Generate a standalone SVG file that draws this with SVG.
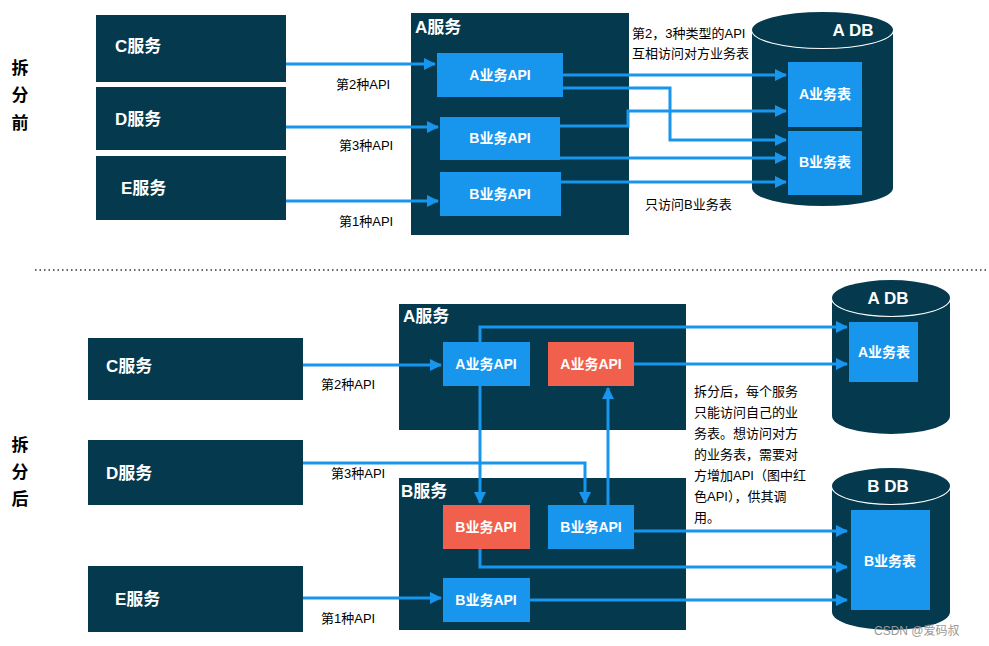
<svg xmlns="http://www.w3.org/2000/svg" width="989" height="646" viewBox="0 0 989 646">
<defs>
<style>
text{font-family:"Liberation Sans","Noto Sans CJK SC",sans-serif}
.d{fill:#053a4e}
.b{fill:#1896ee}
.r{fill:#f1604c}
.wt{fill:#fff;font-weight:bold;font-size:14px;text-anchor:middle}
.st{fill:#fff;font-weight:bold;font-size:17px}
.lb{fill:#000;font-size:13px}
.side{fill:#000;font-size:17px;font-weight:bold;text-anchor:middle}
.c{fill:none;stroke:#1896ee;stroke-width:3}
</style>
<marker id="a" markerWidth="12" markerHeight="12" refX="11" refY="6" orient="auto" markerUnits="userSpaceOnUse" viewBox="0 0 12 12"><path d="M0,0L12,6L0,12z" fill="#1896ee"/></marker>
</defs>
<rect width="989" height="646" fill="#fff"/>
<g id="side-labels">
<text class="side" x="20" y="74">拆</text><text class="side" x="20" y="101">分</text><text class="side" x="20" y="129">前</text>
<text class="side" x="20" y="451">拆</text><text class="side" x="20" y="478">分</text><text class="side" x="20" y="505">后</text>
</g>
<line x1="35" y1="270" x2="989" y2="270" stroke="#333" stroke-width="1.3" stroke-dasharray="1.5 3"/>
<g id="C1"><rect class="d" x="96" y="15" width="190" height="67"/><text class="st" x="115" y="52">C服务</text></g>
<g id="D1"><rect class="d" x="96" y="87" width="190" height="63"/><text class="st" x="115" y="125">D服务</text></g>
<g id="E1"><rect class="d" x="96" y="156" width="190" height="64"/><text class="st" x="121" y="194">E服务</text></g>
<g id="Asvc1"><rect class="d" x="411" y="13" width="218" height="222"/><text class="st" x="415" y="33">A服务</text></g>
<g id="A1api"><rect class="b" x="437" y="53" width="126" height="44"/><text class="wt" x="500" y="80">A业务API</text></g>
<g id="B1api"><rect class="b" x="440" y="117" width="120" height="43"/><text class="wt" x="500" y="143">B业务API</text></g>
<g id="B2api"><rect class="b" x="440" y="172" width="121" height="44"/><text class="wt" x="500" y="199">B业务API</text></g>
<g id="ADB1">
<path class="d" d="M752,30 A70.5,18 0 0 1 893,30 V188 A70.5,18 0 0 1 752,188 Z"/>
<ellipse cx="822.5" cy="30" rx="70.5" ry="18" fill="none" stroke="#fff" stroke-width="2"/>
<path class="d" d="M752,30 A70.5,18 0 0 1 893,30 A70.5,18 0 0 1 752,30Z"/>
<text class="wt" x="853" y="36" style="font-size:17px">A DB</text>
<rect class="b" x="788" y="62" width="74" height="65"/><text class="wt" x="825" y="99">A业务表</text>
<rect class="b" x="788" y="131" width="74" height="64"/><text class="wt" x="825" y="167">B业务表</text>
</g>
<g id="texts1">
<text class="lb" x="632" y="38">第2，3种类型的API</text>
<text class="lb" x="632" y="58">互相访问对方业务表</text>
<text class="lb" x="645" y="209">只访问B业务表</text>
<text class="lb" x="336" y="89">第2种API</text>
<text class="lb" x="339" y="150">第3种API</text>
<text class="lb" x="339" y="226">第1种API</text>
</g>
<g id="connectors1">
<path class="c" d="M286,64H435" marker-end="url(#a)"/>
<path class="c" d="M286,127H438" marker-end="url(#a)"/>
<path class="c" d="M286,201H438" marker-end="url(#a)"/>
<path class="c" d="M563,75H786" marker-end="url(#a)"/>
<path class="c" d="M563,88H670V140H786" marker-end="url(#a)"/>
<path class="c" d="M560,126H628V111H786" marker-end="url(#a)"/>
<path class="c" d="M560,158H786" marker-end="url(#a)"/>
<path class="c" d="M561,182H786" marker-end="url(#a)"/>
</g>
<g id="C2"><rect class="d" x="88" y="338" width="215" height="62"/><text class="st" x="106" y="372">C服务</text></g>
<g id="D2"><rect class="d" x="88" y="440" width="215" height="65"/><text class="st" x="106" y="479">D服务</text></g>
<g id="E2"><rect class="d" x="88" y="566" width="215" height="66"/><text class="st" x="115" y="605">E服务</text></g>
<g id="Asvc2"><rect class="d" x="399" y="304" width="287" height="126"/><text class="st" x="403" y="322">A服务</text></g>
<g id="Bsvc2"><rect class="d" x="399" y="478" width="287" height="152"/><text class="st" x="401" y="497">B服务</text></g>
<g id="A2api"><rect class="b" x="443" y="342" width="87" height="44"/><text class="wt" x="486" y="369">A业务API</text></g>
<g id="A2red"><rect class="r" x="548" y="342" width="86" height="44"/><text class="wt" x="591" y="369">A业务API</text></g>
<g id="B2red"><rect class="r" x="443" y="505" width="87" height="44"/><text class="wt" x="486" y="532">B业务API</text></g>
<g id="B2blue"><rect class="b" x="548" y="505" width="86" height="44"/><text class="wt" x="591" y="532">B业务API</text></g>
<g id="B3api"><rect class="b" x="443" y="578" width="87" height="44"/><text class="wt" x="486" y="605">B业务API</text></g>
<g id="ADB2">
<path class="d" d="M832,298 A59,18 0 0 1 950,298 V416 A59,18 0 0 1 832,416 Z"/>
<ellipse cx="891" cy="298" rx="59" ry="18" fill="none" stroke="#fff" stroke-width="2"/>
<path class="d" d="M832,298 A59,18 0 0 1 950,298 A59,18 0 0 1 832,298Z"/>
<text class="wt" x="888" y="304" style="font-size:17px">A DB</text>
<rect class="b" x="849" y="322" width="69" height="60"/><text class="wt" x="884" y="357">A业务表</text>
</g>
<g id="BDB2">
<path class="d" d="M832,486 A59,18 0 0 1 950,486 V612 A59,18 0 0 1 832,612 Z"/>
<ellipse cx="891" cy="486" rx="59" ry="18" fill="none" stroke="#fff" stroke-width="2"/>
<path class="d" d="M832,486 A59,18 0 0 1 950,486 A59,18 0 0 1 832,486Z"/>
<text class="wt" x="888" y="492" style="font-size:17px">B DB</text>
<rect class="b" x="851" y="510" width="79" height="100"/><text class="wt" x="890" y="566">B业务表</text>
</g>
<g id="texts2">
<text class="lb" x="321" y="389">第2种API</text>
<text class="lb" x="331" y="478">第3种API</text>
<text class="lb" x="321" y="623">第1种API</text>
<text class="lb" x="694" y="396">拆分后，每个服务</text>
<text class="lb" x="694" y="417">只能访问自己的业</text>
<text class="lb" x="694" y="438">务表。想访问对方</text>
<text class="lb" x="694" y="459">的业务表，需要对</text>
<text class="lb" x="694" y="480">方增加API（图中红</text>
<text class="lb" x="694" y="501">色API），供其调</text>
<text class="lb" x="694" y="522">用。</text>
<text x="874" y="635" style="font-size:12px;fill:#999">CSDN @爱码叔</text>
</g>
<g id="connectors2">
<path class="c" d="M303,365H441" marker-end="url(#a)"/>
<path class="c" d="M303,463H585V503" marker-end="url(#a)"/>
<path class="c" d="M303,598H441" marker-end="url(#a)"/>
<path class="c" d="M480,342V327H847" marker-end="url(#a)"/>
<path class="c" d="M634,364H847" marker-end="url(#a)"/>
<path class="c" d="M480,386V503" marker-end="url(#a)"/>
<path class="c" d="M608,505V388" marker-end="url(#a)"/>
<path class="c" d="M634,531H847" marker-end="url(#a)"/>
<path class="c" d="M480,549V567H847" marker-end="url(#a)"/>
<path class="c" d="M530,600H847" marker-end="url(#a)"/>
</g>
</svg>
